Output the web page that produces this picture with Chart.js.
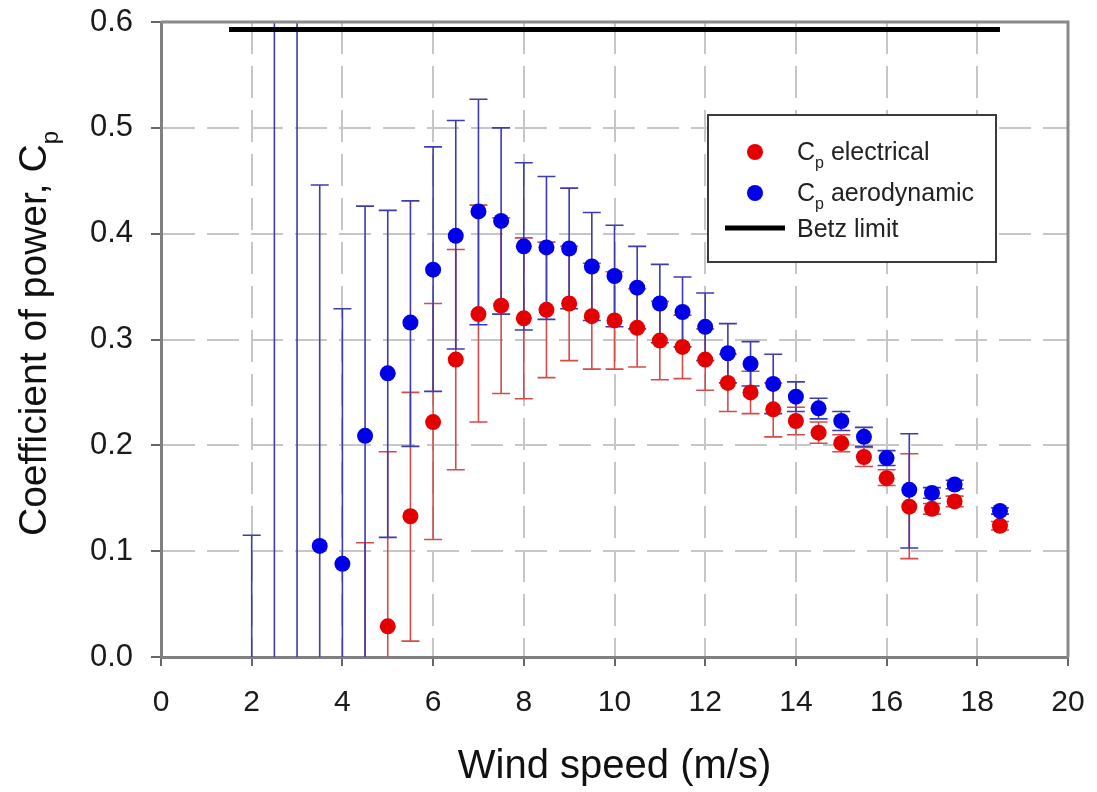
<!DOCTYPE html>
<html>
<head>
<meta charset="utf-8">
<script src="https://cdn.jsdelivr.net/npm/chart.js@4"></script>
<style>
  html, body { margin: 0; padding: 0; background: #fff; }
  #wrap { width: 1097px; height: 792px; position: relative; }
</style>
</head>
<body>
<div id="wrap"><canvas id="myChart"></canvas></div>
<script>
// wind speed bins (m/s)
const windSpeed = [2, 2.5, 3, 3.5, 4, 4.5, 5, 5.5, 6, 6.5, 7, 7.5, 8, 8.5, 9, 9.5, 10, 10.5, 11, 11.5, 12, 12.5, 13, 13.5, 14, 14.5, 15, 15.5, 16, 16.5, 17, 17.5, 18.5];

// Cp electrical (red) with error bar ends
const cpElectrical = [null, null, null, null, null, null, 0.029, 0.133, 0.222, 0.281, 0.324, 0.332, 0.320, 0.328, 0.334, 0.322, 0.318, 0.311, 0.299, 0.293, 0.281, 0.259, 0.250, 0.234, 0.223, 0.212, 0.202, 0.189, 0.169, 0.142, 0.140, 0.147, 0.124];
const elecLow = [null, null, null, null, null, -0.1, -0.136, 0.015, 0.111, 0.177, 0.222, 0.249, 0.244, 0.264, 0.280, 0.272, 0.272, 0.274, 0.262, 0.263, 0.252, 0.232, 0.230, 0.208, 0.210, 0.202, 0.194, 0.180, 0.162, 0.093, 0.135, 0.142, 0.120];
const elecHigh = [null, null, null, null, null, 0.108, 0.194, 0.250, 0.334, 0.385, 0.427, 0.415, 0.396, 0.392, 0.388, 0.372, 0.364, 0.348, 0.336, 0.323, 0.310, 0.286, 0.270, 0.259, 0.236, 0.222, 0.210, 0.198, 0.177, 0.192, 0.145, 0.152, 0.128];

// Cp aerodynamic (blue) with error bar ends
const cpAerodynamic = [null, null, null, 0.105, 0.088, 0.209, 0.268, 0.316, 0.366, 0.398, 0.421, 0.412, 0.388, 0.387, 0.386, 0.369, 0.360, 0.349, 0.334, 0.326, 0.312, 0.287, 0.277, 0.258, 0.246, 0.235, 0.223, 0.208, 0.188, 0.158, 0.155, 0.163, 0.138];
const aeroLow = [-0.1, -0.1, -0.1, -0.236, -0.153, -0.008, 0.113, 0.199, 0.251, 0.291, 0.314, 0.324, 0.309, 0.319, 0.329, 0.318, 0.312, 0.310, 0.297, 0.293, 0.280, 0.259, 0.256, 0.230, 0.232, 0.225, 0.214, 0.199, 0.181, 0.103, 0.150, 0.159, 0.135];
const aeroHigh = [0.115, 0.7, 0.7, 0.446, 0.329, 0.426, 0.422, 0.431, 0.482, 0.507, 0.527, 0.500, 0.467, 0.454, 0.443, 0.420, 0.408, 0.388, 0.371, 0.359, 0.344, 0.315, 0.298, 0.286, 0.260, 0.2445, 0.232, 0.217, 0.195, 0.211, 0.160, 0.167, 0.141];

// Betz limit line
const betzRange = [1.5, 18.5];
const betzLimit = 0.593;

const legendNames = ["electrical", "aerodynamic", "Betz limit"];

const FONT = '"Liberation Sans", Arial, Helvetica, sans-serif';
const RED = "#e40000";
const BLUE = "#0000e8";
const RED_BAR = "#d64a4a";
const BLUE_BAR = "#3c3cae";

function toPoints(xs, ys) {
    return xs.map((x, i) => ({ x: x, y: ys[i] }));
}

// error bars are drawn under the points
const errorBars = {
    id: "errorBars",
    beforeDatasetsDraw(chart) {
        const { ctx, chartArea: a, scales: { x, y } } = chart;
        ctx.save();
        ctx.beginPath();
        ctx.rect(a.left, a.top, a.right - a.left, a.bottom - a.top);
        ctx.clip();
        [[elecLow, elecHigh, RED_BAR], [aeroLow, aeroHigh, BLUE_BAR]].forEach(([lo, hi, col]) => {
            ctx.strokeStyle = col;
            ctx.lineWidth = 1.6;
            windSpeed.forEach((ws, i) => {
                if (lo[i] === null || hi[i] === null) return;
                const px = x.getPixelForValue(ws);
                const y1 = y.getPixelForValue(lo[i]);
                const y2 = y.getPixelForValue(hi[i]);
                ctx.beginPath();
                ctx.moveTo(px, y1); ctx.lineTo(px, y2);
                ctx.moveTo(px - 9, y1); ctx.lineTo(px + 9, y1);
                ctx.moveTo(px - 9, y2); ctx.lineTo(px + 9, y2);
                ctx.stroke();
            });
        });
        ctx.restore();
    }
};

function subText(ctx, x, y, main, sub, rest, size) {
    ctx.font = size + "px " + FONT;
    ctx.fillText(main, x, y);
    let w = ctx.measureText(main).width;
    ctx.font = Math.round(size * 0.62) + "px " + FONT;
    ctx.fillText(sub, x + w, y + size * 0.3);
    w += ctx.measureText(sub).width;
    if (rest) {
        ctx.font = size + "px " + FONT;
        ctx.fillText(rest, x + w, y);
    }
}

const frameAndLegend = {
    id: "frameAndLegend",
    afterDraw(chart) {
        const { ctx, chartArea: a } = chart;
        ctx.save();
        // top / right frame
        ctx.strokeStyle = "#8a8a8a";
        ctx.lineWidth = 3;
        ctx.beginPath();
        ctx.moveTo(a.left, a.top);
        ctx.lineTo(a.right, a.top);
        ctx.lineTo(a.right, a.bottom);
        ctx.stroke();

        // legend box
        const lx = 708, ly = 115, lw = 288, lh = 147;
        ctx.fillStyle = "#fff";
        ctx.fillRect(lx, ly, lw, lh);
        ctx.strokeStyle = "#3a3a3a";
        ctx.lineWidth = 2;
        ctx.strokeRect(lx, ly, lw, lh);

        ctx.fillStyle = RED;
        ctx.beginPath(); ctx.arc(lx + 47, ly + 37, 8, 0, Math.PI * 2); ctx.fill();
        ctx.fillStyle = BLUE;
        ctx.beginPath(); ctx.arc(lx + 47, ly + 78, 8, 0, Math.PI * 2); ctx.fill();
        ctx.strokeStyle = "#000";
        ctx.lineWidth = 5;
        ctx.beginPath(); ctx.moveTo(lx + 17, ly + 113); ctx.lineTo(lx + 77, ly + 113); ctx.stroke();

        ctx.fillStyle = "#222";
        ctx.textBaseline = "alphabetic";
        ctx.textAlign = "left";
        subText(ctx, lx + 89, ly + 45, "C", "p", " " + legendNames[0], 25);
        subText(ctx, lx + 89, ly + 86, "C", "p", " " + legendNames[1], 25);
        ctx.font = "25px " + FONT;
        ctx.fillText(legendNames[2], lx + 89, ly + 122);

        // y axis title with subscript
        ctx.translate(46, (a.top + a.bottom) / 2 - 6);
        ctx.rotate(-Math.PI / 2);
        ctx.font = "39px " + FONT;
        const mainT = "Coefficient of power, C";
        const w1 = ctx.measureText(mainT).width;
        ctx.font = "24px " + FONT;
        const w2 = ctx.measureText("p").width;
        ctx.fillStyle = "#111";
        subText(ctx, -(w1 + w2) / 2, 0, mainT, "p", "", 39);
        ctx.restore();
    }
};

Chart.defaults.font.family = FONT;

const ctx = document.getElementById("myChart").getContext("2d");
const myChart = new Chart(ctx, {
    type: "scatter",
    data: {
        datasets: [
            {
                type: "line",
                label: legendNames[2],
                data: betzRange.map(v => ({ x: v, y: betzLimit })),
                borderColor: "#000",
                borderWidth: 5,
                pointRadius: 0,
                order: 0
            },
            {
                label: "Cp aerodynamic",
                data: toPoints(windSpeed, cpAerodynamic),
                backgroundColor: BLUE,
                borderWidth: 0,
                pointRadius: 8,
                order: 1
            },
            {
                label: "Cp electrical",
                data: toPoints(windSpeed, cpElectrical),
                backgroundColor: RED,
                borderWidth: 0,
                pointRadius: 8,
                order: 2
            }
        ]
    },
    options: {
        responsive: true,
        maintainAspectRatio: false,
        animation: false,
        devicePixelRatio: 1,
        layout: { padding: { top: 22, right: 29, left: 0, bottom: 0 } },
        plugins: {
            legend: { display: false },
            tooltip: { enabled: false }
        },
        scales: {
            x: {
                type: "linear",
                min: 0,
                max: 20,
                afterFit: s => { s.height = 135; s.paddingLeft = 0; s.paddingRight = 0; },
                ticks: { stepSize: 2, color: "#1a1a1a", font: { size: 30 }, padding: 19 },
                grid: { color: "#c6c6c6", lineWidth: 2, tickLength: 9, tickColor: "#666", tickWidth: 2, tickBorderDash: [] },
                border: { display: true, color: "#808080", width: 3, dash: [32, 12] },
                title: { display: true, text: "Wind speed (m/s)", color: "#111", font: { size: 40 }, padding: { top: 0, bottom: 1 } }
            },
            y: {
                min: 0,
                max: 0.6,
                afterFit: s => { s.width = 161; s.paddingTop = 0; s.paddingBottom = 0; },
                ticks: { stepSize: 0.1, color: "#1a1a1a", font: { size: 31 }, padding: 18, callback: v => v.toFixed(1) },
                grid: { color: "#c6c6c6", lineWidth: 2, tickLength: 10, tickColor: "#666", tickWidth: 2, tickBorderDash: [] },
                border: { display: true, color: "#808080", width: 3, dash: [32, 12] }
            }
        }
    },
    plugins: [errorBars, frameAndLegend]
});
</script>
</body>
</html>
